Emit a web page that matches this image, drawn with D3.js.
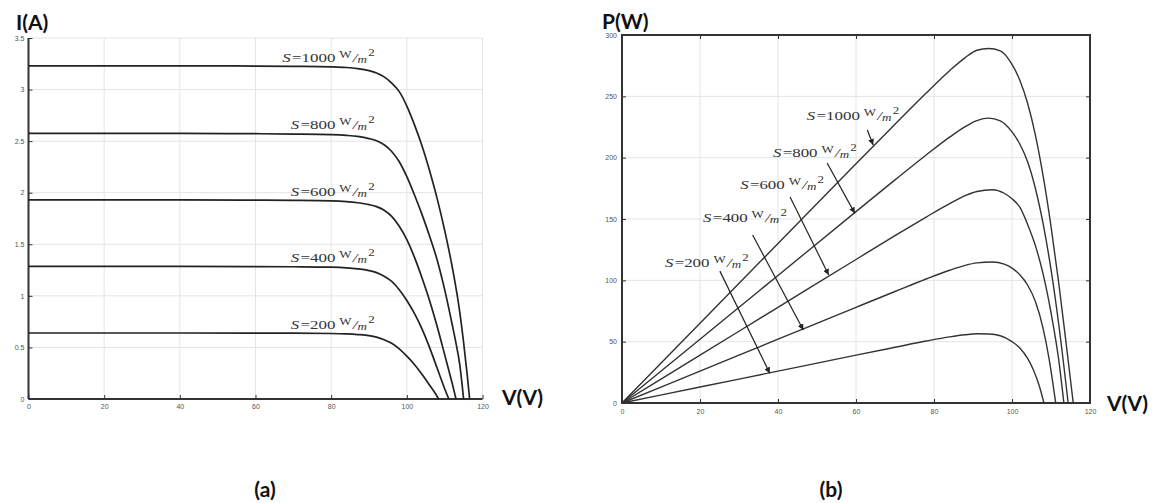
<!DOCTYPE html>
<html>
<head>
<meta charset="utf-8">
<script src="https://cdn.jsdelivr.net/npm/d3@7"></script>
<style>
  body { margin: 0; background: #fff; }
  svg { display: block; }
</style>
</head>
<body>
<div id="chart"></div>
<script>
// irradiance levels (W/m2)
const irradiance = [1000, 800, 600, 400, 200];

// I-V curves: [V, I]
const iv1000 = [[0,3.23],[20,3.23],[40,3.23],[60,3.228],[70,3.225],[80,3.22],[84,3.214],[87,3.203],[90,3.183],[92,3.16],[94,3.123],[96,3.063],[98,2.98],[100,2.84],[102,2.66],[104,2.455],[106,2.215],[108,1.945],[110,1.635],[112,1.28],[114,0.84],[115,0.55],[116,0.22],[116.6,0]];
const iv800 = [[0,2.575],[20,2.575],[40,2.575],[60,2.572],[70,2.569],[80,2.563],[84,2.556],[87,2.546],[90,2.525],[92,2.503],[94,2.465],[96,2.40],[98,2.30],[100,2.155],[102,1.98],[104,1.79],[106,1.58],[108,1.35],[110,1.06],[112,0.72],[113,0.54],[114,0.33],[115,0]];
const iv600 = [[0,1.93],[20,1.93],[40,1.93],[60,1.928],[70,1.926],[80,1.921],[84,1.914],[87,1.903],[90,1.885],[92,1.865],[94,1.83],[96,1.77],[98,1.675],[100,1.545],[102,1.375],[104,1.175],[106,0.955],[108,0.705],[110,0.43],[112,0.15],[113,0]];
const iv400 = [[0,1.285],[20,1.285],[40,1.285],[60,1.284],[70,1.282],[80,1.278],[84,1.272],[87,1.262],[90,1.245],[92,1.225],[94,1.19],[96,1.14],[98,1.06],[100,0.955],[102,0.83],[104,0.68],[106,0.50],[108,0.30],[110,0.10],[111.1,0]];
const iv200 = [[0,0.64],[20,0.64],[40,0.64],[60,0.639],[70,0.638],[80,0.635],[84,0.631],[87,0.625],[90,0.615],[92,0.60],[94,0.575],[96,0.54],[98,0.485],[100,0.415],[102,0.335],[104,0.24],[106,0.135],[107.5,0.055],[108.4,0]];

// P-V curves: [V, P]
const pv1000 = [[0,0],[20,65],[40,130],[60,195],[70,227.3],[78,252.7],[84,270.9],[88,281.6],[91,287.6],[94,289],[97,287.1],[100,276],[102,263.2],[104,244.4],[106,218.4],[108,184.7],[110,144.1],[112,97.4],[114,45.6],[115.7,0]];
const pv800 = [[0,0],[20,52],[40,104],[60,156],[70,181.9],[78,202.2],[84,216.7],[88,225.3],[91,230.2],[94,232.2],[97,229.9],[100,221],[102,211.1],[104,196.6],[106,174.9],[108,145.8],[110,108.9],[112,63.8],[114.4,0]];
const pv600 = [[0,0],[20,39],[40,78],[60,117],[70,136.4],[78,151.6],[84,162.5],[88,169],[91,172.4],[95,173.9],[98,171],[100,166.5],[102,159.6],[104,145.6],[106,128.3],[108,104.8],[110,73.7],[112,34.7],[113.3,0]];
const pv400 = [[0,0],[20,26],[40,52],[60,78],[70,90.9],[78,101.1],[84,108.2],[88,112.2],[91,114.2],[95,115],[98,113.2],[100,110],[102,104.6],[104,96.2],[106,82.7],[108,60.5],[109.5,36.1],[111.2,0]];
const pv200 = [[0,0],[20,13],[40,26],[60,39],[70,45.4],[78,50.5],[84,53.9],[88,55.6],[91,56.4],[94,56.2],[97,54.8],[100,50],[102,44.9],[104,36.4],[105.5,26.9],[107,13.9],[108.2,0]];

const ivCurves = [iv1000, iv800, iv600, iv400, iv200];
const pvCurves = [pv1000, pv800, pv600, pv400, pv200];

// tick values
const vTicks = [0, 20, 40, 60, 80, 100, 120];
const iTicks = [0, 0.5, 1, 1.5, 2, 2.5, 3, 3.5];
const pTicks = [0, 50, 100, 150, 200, 250, 300];

// panel (b) annotations, in data units: label start, arrow tail, arrow tip
const pvLabelAt = [[47.4,230.7],[38.7,200.5],[30.3,174.5],[20.8,147.5],[11,110.9]];
const pvArrowTail = [[62.9,222.5],[52.6,195.6],[43.1,168],[33.5,136.9],[25.1,107.5]];
const pvArrowTip = [[64.4,210.3],[59.7,154.6],[53.0,104.3],[46.5,59.5],[37.9,24.2]];

const width = 1157, height = 503;
const svg = d3.select("#chart").append("svg")
  .attr("width", width)
  .attr("height", height);

svg.append("defs").append("marker")
  .attr("id", "arrow")
  .attr("viewBox", "0 0 10 10")
  .attr("refX", 10).attr("refY", 5)
  .attr("markerWidth", 6).attr("markerHeight", 6)
  .attr("markerUnits", "userSpaceOnUse")
  .attr("orient", "auto")
  .append("path")
  .attr("d", "M0,0L10,5L0,10z")
  .attr("fill", "#222");

// "S=1000 W/m2" style label
function sLabel(g, value, x, y, anchor) {
  const holder = g.append("g").attr("transform", `translate(${x},${y}) scale(1.3,1)`);
  const t = holder.append("text")
    .attr("text-anchor", anchor)
    .attr("font-family", "'Liberation Serif', 'DejaVu Serif', serif")
    .attr("fill", "#333");
  t.append("tspan").attr("font-style", "italic").attr("font-size", 13).text("S");
  t.append("tspan").attr("font-size", 13).attr("dx", 1).text("=" + value);
  t.append("tspan").attr("font-size", 10).attr("dx", 3).attr("dy", -4).text("W");
  t.append("tspan").attr("font-size", 13).attr("font-style", "italic").attr("dx", 1).attr("dy", 4).text("/");
  t.append("tspan").attr("font-size", 10).attr("font-style", "italic").attr("dy", 1).text("m");
  t.append("tspan").attr("font-size", 10).attr("dx", 1).attr("dy", -7).text("2");
}

function styleTicks(g) {
  g.select(".domain").remove();
  g.selectAll(".tick line").attr("stroke", "#333");
  g.selectAll(".tick text")
    .attr("font-family", "'Liberation Sans', Arial, sans-serif")
    .attr("font-size", 7)
    .attr("fill", "#555");
}

function gridLines(g, x, y, yTicks) {
  const grid = g.append("g").attr("stroke", "#e4e4e4").attr("stroke-width", 1);
  grid.selectAll(".gx").data(vTicks).enter().append("line")
    .attr("x1", d => x(d)).attr("x2", d => x(d))
    .attr("y1", y.range()[0]).attr("y2", y.range()[1]);
  grid.selectAll(".gy").data(yTicks).enter().append("line")
    .attr("x1", x.range()[0]).attr("x2", x.range()[1])
    .attr("y1", d => y(d)).attr("y2", d => y(d));
}

function bigTitle(text, x, y, anchor) {
  svg.append("text")
    .attr("x", x).attr("y", y)
    .attr("text-anchor", anchor || "start")
    .attr("font-family", "Lato, 'Open Sans', sans-serif")
    .attr("font-weight", 700)
    .attr("font-size", 21)
    .attr("fill", "#111")
    .text(text);
}

// ---------- panel (a): I-V ----------
const xI = d3.scaleLinear().domain([0, 120]).range([28.5, 482.5]);
const yI = d3.scaleLinear().domain([0, 3.5]).range([399, 38]);

const ga = svg.append("g");
gridLines(ga, xI, yI, iTicks);

ga.append("g")
  .attr("transform", `translate(0,${yI(0)})`)
  .call(d3.axisBottom(xI).tickValues(vTicks).tickSizeInner(-4).tickSizeOuter(0).tickPadding(5))
  .call(styleTicks);
ga.append("g")
  .attr("transform", `translate(${xI(0)},0)`)
  .call(d3.axisLeft(yI).tickValues(iTicks).tickFormat(d3.format("")).tickSizeInner(-4).tickSizeOuter(0).tickPadding(4))
  .call(styleTicks);

ga.append("line")
  .attr("x1", xI(0)).attr("x2", xI(120))
  .attr("y1", yI(0)).attr("y2", yI(0))
  .attr("stroke", "#333").attr("stroke-width", 2);
ga.append("line")
  .attr("x1", xI(0)).attr("x2", xI(0))
  .attr("y1", yI(0)).attr("y2", yI(3.5))
  .attr("stroke", "#333").attr("stroke-width", 2);

const lineI = d3.line()
  .x(d => xI(d[0]))
  .y(d => yI(d[1]))
  .curve(d3.curveMonotoneX);

ga.selectAll(".iv")
  .data(ivCurves)
  .enter()
  .append("path")
  .attr("class", "iv")
  .attr("d", lineI)
  .attr("fill", "none")
  .attr("stroke", "#222")
  .attr("stroke-width", 1.7);

ivCurves.forEach((c, i) => {
  sLabel(ga, irradiance[i], xI(91.5), yI(c[0][1]) - 4, "end");
});

bigTitle("I(A)", 16, 30);
bigTitle("V(V)", 502, 405);
bigTitle("(a)", 265, 497, "middle");

// ---------- panel (b): P-V ----------
const xP = d3.scaleLinear().domain([0, 120]).range([622, 1090]);
const yP = d3.scaleLinear().domain([0, 300]).range([403, 35]);

const gb = svg.append("g");
gridLines(gb, xP, yP, pTicks);

gb.append("g")
  .attr("transform", `translate(0,${yP(0)})`)
  .call(d3.axisBottom(xP).tickValues(vTicks).tickSizeInner(-4).tickSizeOuter(0).tickPadding(6))
  .call(styleTicks);
gb.append("g")
  .attr("transform", `translate(${xP(0)},0)`)
  .call(d3.axisLeft(yP).tickValues(pTicks).tickSizeInner(-4).tickSizeOuter(0).tickPadding(5))
  .call(styleTicks);
gb.append("g")
  .attr("transform", `translate(0,${yP(300)})`)
  .call(d3.axisTop(xP).tickValues(vTicks).tickSizeInner(-4).tickSizeOuter(0).tickFormat(""))
  .call(styleTicks);
gb.append("g")
  .attr("transform", `translate(${xP(120)},0)`)
  .call(d3.axisRight(yP).tickValues(pTicks).tickSizeInner(-4).tickSizeOuter(0).tickFormat(""))
  .call(styleTicks);

gb.append("rect")
  .attr("x", xP(0)).attr("y", yP(300))
  .attr("width", xP(120) - xP(0))
  .attr("height", yP(0) - yP(300))
  .attr("fill", "none")
  .attr("stroke", "#333")
  .attr("stroke-width", 2);

const lineP = d3.line()
  .x(d => xP(d[0]))
  .y(d => yP(d[1]))
  .curve(d3.curveMonotoneX);

gb.selectAll(".pv")
  .data(pvCurves)
  .enter()
  .append("path")
  .attr("class", "pv")
  .attr("d", lineP)
  .attr("fill", "none")
  .attr("stroke", "#333")
  .attr("stroke-width", 1.4);

irradiance.forEach((s, i) => {
  gb.append("line")
    .attr("x1", xP(pvArrowTail[i][0])).attr("y1", yP(pvArrowTail[i][1]))
    .attr("x2", xP(pvArrowTip[i][0])).attr("y2", yP(pvArrowTip[i][1]))
    .attr("stroke", "#222")
    .attr("stroke-width", 1.2)
    .attr("marker-end", "url(#arrow)");
  sLabel(gb, s, xP(pvLabelAt[i][0]), yP(pvLabelAt[i][1]), "start");
});

bigTitle("P(W)", 602, 29);
bigTitle("V(V)", 1107, 411);
bigTitle("(b)", 831, 497, "middle");
</script>
</body>
</html>
